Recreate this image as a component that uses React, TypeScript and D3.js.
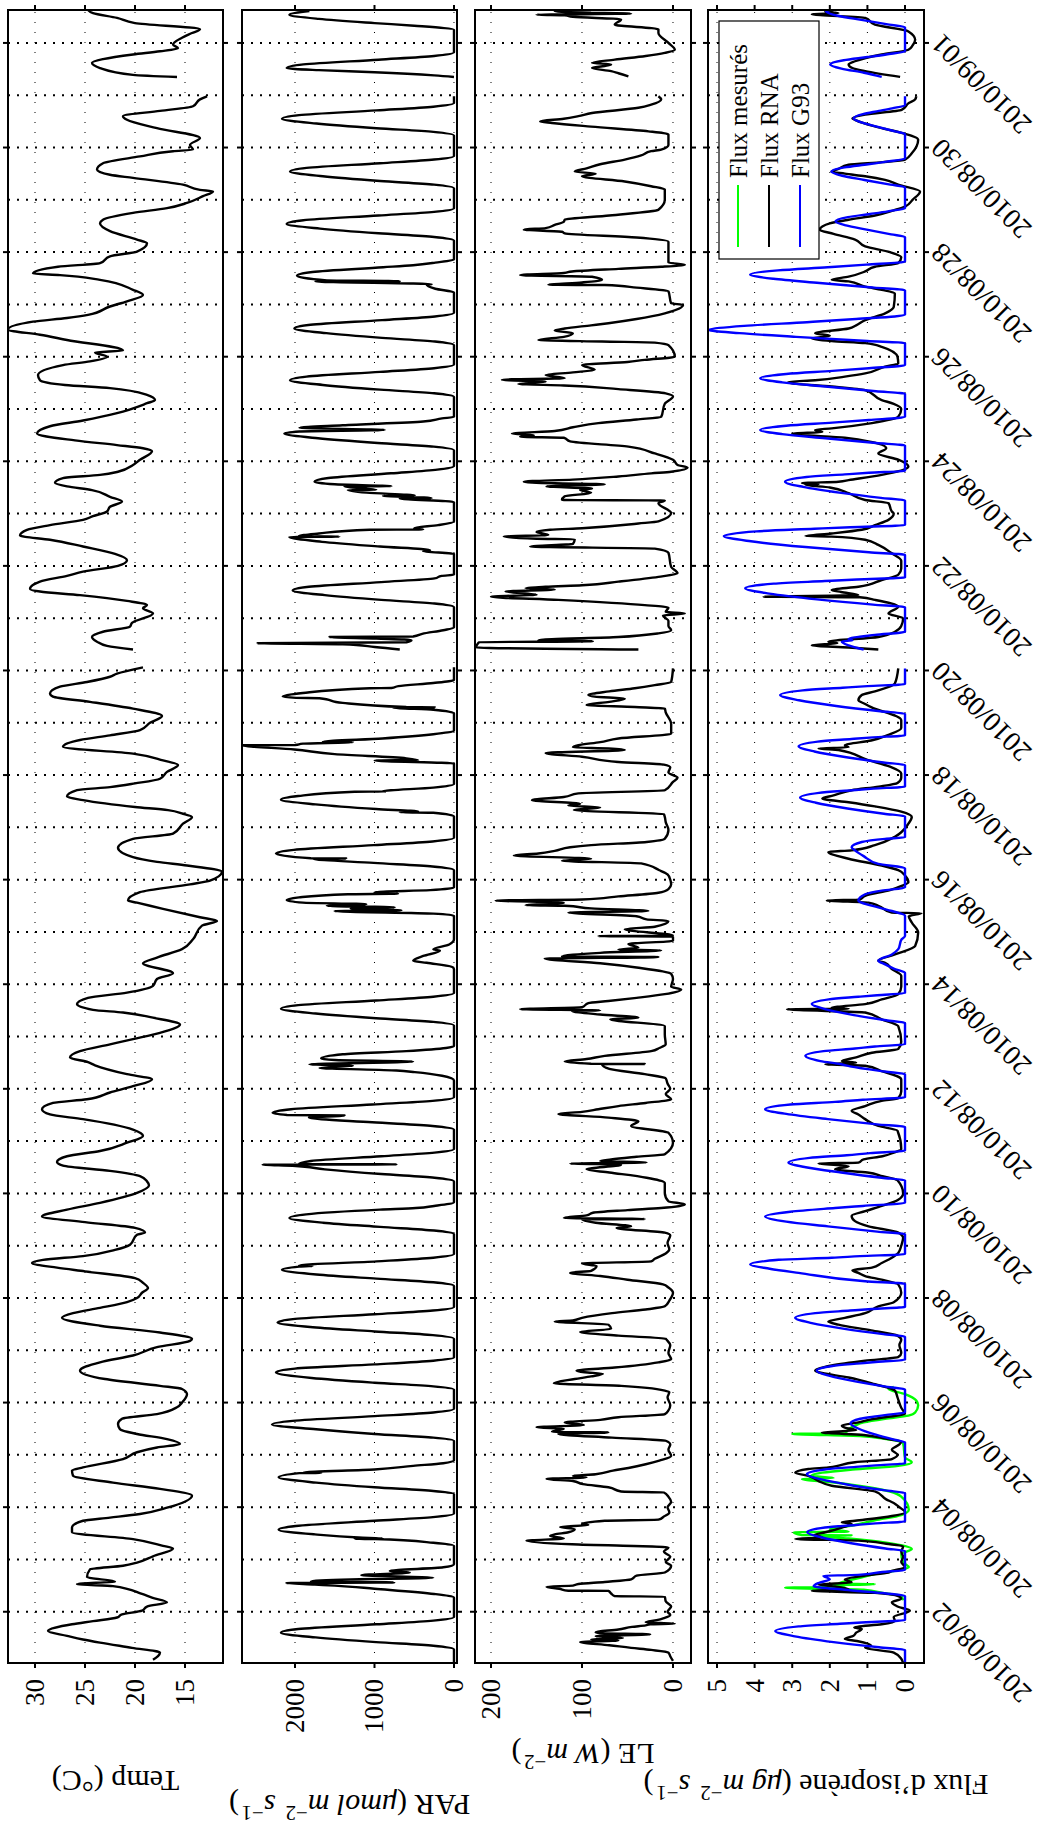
import React from "react";
import * as d3 from "d3";

// ---------- DATA (t = days since 2010-08-01 00:00 UTC) ----------
const tempData: number[][] = [
[0.08,18.2],[0.15,17.7],[0.22,17.5],[0.31,20.3],[0.41,23.5],[0.47,25.2],[0.54,26.8],[0.63,28.7],[0.76,26.3],[0.82,24.2],[0.89,21.8],[0.95,21.3],[1.02,19.3],[1.10,18.8],[1.18,16.8],[1.27,18.3],[1.34,19.3],[1.49,22.2],[1.53,25.8],[1.58,22.0],[1.66,24.8],[1.81,24.5],[1.88,21.2],[1.94,19.8],[2.06,18.2],[2.21,16.2],[2.26,17.2],[2.39,20.2],[2.52,26.3],[2.61,26.3],[2.74,25.2],[2.80,22.5],[2.87,19.5],[2.99,16.8],[3.22,14.3],[3.35,17.5],[3.47,22.2],[3.60,26.2],[3.70,26.3],[3.76,25.2],[3.92,21.2],[4.05,19.8],[4.14,17.8],[4.21,15.5],[4.30,16.8],[4.40,19.8],[4.49,21.5],[4.59,21.7],[4.69,21.3],[4.78,17.8],[4.91,15.8],[5.0,15.3],[5.16,14.8],[5.26,15.3],[5.32,17.5],[5.45,23],[5.61,25.5],[5.77,23.5],[5.90,20.2],[6.06,17.8],[6.18,14.5],[6.22,14.3],[6.34,17.5],[6.47,23.5],[6.62,27.3],[6.71,26.2],[6.81,23.5],[6.92,20.8],[7.0,19.8],[7.10,19.3],[7.19,18.7],[7.29,19.2],[7.38,20],[7.51,25],[7.58,27.8],[7.67,30.3],[7.73,29.2],[7.80,25.2],[7.92,22],[8.02,20.5],[8.21,19.8],[8.25,19.0],[8.34,20],[8.45,25],[8.56,29.3],[8.69,26.8],[8.82,23.5],[9.01,19.8],[9.15,18.6],[9.23,18.8],[9.33,19.5],[9.43,22.5],[9.53,27.2],[9.60,27.8],[9.71,26.8],[9.81,23.5],[9.97,20.8],[10.10,19.2],[10.22,20.2],[10.42,25.2],[10.51,28.5],[10.61,29.3],[10.73,28.2],[10.80,24.8],[10.93,22.5],[11.05,20.2],[11.18,18.3],[11.28,20.8],[11.45,24],[11.51,24.7],[11.60,26.5],[11.72,25.5],[11.85,22.5],[11.95,20.2],[12.07,17.5],[12.23,15.5],[12.36,18.2],[12.46,21.2],[12.51,24.2],[12.62,25.8],[12.74,24.7],[12.84,20.8],[12.97,18.2],[13.10,17.8],[13.21,16.2],[13.40,19.2],[13.51,17.8],[13.67,15.3],[13.86,14.2],[14.12,13.3],[14.21,11.8],[14.28,13.5],[14.44,17.2],[14.56,19.8],[14.60,20.7],[14.76,19.5],[14.91,14.5],[14.98,12.5],[15.15,11.3],[15.27,14.8],[15.34,17.8],[15.43,20.2],[15.61,21.7],[15.78,20.2],[15.88,16.2],[16.07,15.2],[16.20,14.3],[16.26,15.2],[16.33,16.7],[16.39,20],[16.52,25.2],[16.59,26.8],[16.71,25.8],[16.77,22.5],[16.84,20],[16.93,17.5],[17.06,16.8],[17.19,15.7],[17.28,17.2],[17.41,20.2],[17.54,27.2],[17.67,25.5],[17.76,22.5],[17.86,19.5],[18.0,18.5],[18.13,17.3],[18.27,20.2],[18.40,24.5],[18.50,28.2],[18.56,28.5],[18.69,27.5],[18.78,24.8],[18.88,22.5],[18.94,21.8],[19.06,19.2],[19.2,NaN],
[19.40,20.2],[19.47,22.8],[19.55,23.8],[19.64,24.3],[19.74,23.2],[19.84,20.5],[19.91,20.3],[20.09,18.2],[20.19,19.2],[20.25,18.8],[20.33,20.8],[20.44,25.5],[20.51,29.5],[20.56,30.5],[20.70,29.5],[20.81,26.8],[20.89,25.2],[21.0,21.7],[21.11,20.8],[21.23,22],[21.37,25.2],[21.50,28.5],[21.58,31.5],[21.69,30.8],[21.78,28.5],[21.88,25.2],[21.95,24.2],[22.04,22.8],[22.13,22.5],[22.23,21.3],[22.32,22.5],[22.45,24.3],[22.52,26.8],[22.59,28],[22.68,27.2],[22.74,23.5],[22.80,21.7],[22.93,20.2],[23.03,19.5],[23.19,18.3],[23.25,19.2],[23.31,21.8],[23.40,26],[23.53,29.8],[23.67,28.5],[23.78,25.2],[23.92,21.8],[24.11,18.8],[24.17,18],[24.27,18.8],[24.40,22.5],[24.46,27],[24.55,29.5],[24.65,29.7],[24.84,27.2],[24.91,24.5],[25.0,22.8],[25.08,24],[25.12,21.2],[25.32,26.8],[25.42,29.5],[25.52,32.7],[25.67,30.2],[25.74,26.8],[25.80,24.7],[25.96,22.5],[26.06,20.8],[26.18,19.2],[26.28,20.2],[26.47,23.5],[26.56,27.5],[26.59,30.2],[26.72,27.7],[26.79,23.5],[26.92,22.5],[27.01,19.8],[27.17,18.8],[27.24,19.8],[27.40,22.5],[27.55,23.5],[27.62,23.2],[27.75,20.2],[27.84,16.8],[27.94,14.8],[28.07,13.2],[28.16,12.2],[28.19,13.5],[28.29,15.2],[28.42,20.2],[28.48,22.5],[28.58,23.8],[28.70,23.2],[28.83,19.5],[28.93,16.2],[28.96,14.2],[29.05,14.5],[29.18,13.5],[29.37,17.8],[29.53,20.8],[29.60,21.2],[29.70,17.5],[29.79,14.2],[29.92,13.5],[29.98,12.8],[30.1,NaN],
[30.35,15.8],[30.39,20.2],[30.52,23.5],[30.62,24.3],[30.69,23.2],[30.78,20.2],[30.84,17.5],[30.90,15.7],[30.97,16.2],[31.10,15.3],[31.19,14.3],[31.26,13.5],[31.38,20],[31.48,21.8],[31.57,24.2],[31.63,24.7]
];

const parData: number[][] = [
[0.02,0],[0.28,0],[0.35,260],[0.42,980],[0.51,1740],[0.60,2177],[0.67,1960],[0.76,980],[0.83,260],[0.90,0],
[1.27,0],[1.34,250],[1.44,1000],[1.50,1500],[1.52,1750],[1.55,2110],[1.56,750],[1.58,1800],[1.62,1300],[1.65,260],[1.70,1166],[1.75,556],[1.78,808],[1.85,135],[1.91,0],
[2.26,0],[2.32,260],[2.39,1000],[2.395,1250],[2.40,890],[2.42,1200],[2.48,1750],[2.57,2206],[2.64,1990],[2.74,1000],[2.81,265],[2.88,0],
[3.25,0],[3.31,260],[3.38,1000],[3.47,1735],[3.57,2206],[3.65,1945],[3.655,1670],[3.66,1900],[3.72,1000],[3.79,514],[3.84,135],[3.89,0],
[4.27,0],[4.33,260],[4.40,1000],[4.49,1735],[4.58,2290],[4.65,2030],[4.74,1000],[4.81,260],[4.88,0],
[5.25,0],[5.31,260],[5.38,1000],[5.47,1790],[5.58,2240],[5.65,2000],[5.73,1000],[5.80,260],[5.86,0],
[6.22,0],[6.29,265],[6.36,1000],[6.44,1775],[6.53,2220],[6.60,2000],[6.69,1000],[6.76,265],[6.83,0],
[7.23,0],[7.30,260],[7.37,975],[7.45,1730],[7.54,2164],[7.60,1950],[7.61,1780],[7.62,1950],[7.70,975],[7.77,260],[7.84,0],
[8.22,0],[8.29,250],[8.36,930],[8.44,1650],[8.53,2071],[8.60,1860],[8.69,930],[8.72,480],[8.76,250],[8.83,0],
[9.23,0],[9.30,245],[9.37,915],[9.46,1625],[9.53,2030],[9.55,2408],[9.555,724],[9.56,1950],[9.62,1800],[9.71,915],[9.78,245],[9.85,0],
[10.22,0],[10.29,270],[10.36,1030],[10.45,1825],[10.49,1377],[10.50,2100],[10.54,2282],[10.61,2050],[10.70,1030],[10.77,270],[10.84,0],
[11.16,0],[11.25,150],[11.32,493],[11.35,724],[11.40,1692],[11.44,1271],[11.47,1819],[11.52,514],[11.55,1500],[11.58,1671],[11.66,1398],[11.72,600],[11.78,100],[11.82,0],
[12.21,0],[12.28,260],[12.35,980],[12.44,1740],[12.53,2177],[12.60,1960],[12.69,980],[12.76,260],[12.83,0],
[13.28,0],[13.32,10],[13.41,345],[13.45,513],[13.54,387],[13.64,177],[13.67,260],[13.76,60],[13.86,0],
[14.31,0],[14.35,260],[14.40,1503],[14.41,661],[14.45,1300],[14.47,745],[14.50,1600],[14.53,1103],[14.56,1900],[14.61,2105],[14.66,1950],[14.72,1335],[14.73,703],[14.76,1000],[14.80,300],[14.85,0],
[15.18,0],[15.25,270],[15.32,1010],[15.40,1777],[15.405,1356],[15.41,1800],[15.50,2240],[15.57,2015],[15.66,1010],[15.73,270],[15.80,0],
[16.21,0],[16.28,260],[16.29,682],[16.30,450],[16.35,980],[16.44,1740],[16.53,2177],[16.60,1960],[16.68,1250],[16.685,850],[16.69,900],[16.76,260],[16.83,0],
[17.22,0],[17.28,998],[17.285,450],[17.32,600],[17.40,1500],[17.49,2008],[17.57,2667],[17.575,2000],[17.60,1900],[17.63,1271],[17.635,1650],[17.70,900],[17.78,260],[17.85,0],
[18.18,0],[18.25,260],[18.29,766],[18.295,240],[18.30,600],[18.38,1400],[18.47,1692],[18.475,1987],[18.50,2155],[18.57,1900],[18.66,1061],[18.665,787],[18.70,700],[18.76,260],[18.82,0],[19.06,0],[19.2,NaN],
[19.40,682],[19.45,998],[19.50,1400],[19.52,2471],[19.54,598],[19.58,535],[19.61,977],[19.64,1566],[19.65,514],[19.70,400],[19.77,135],[19.82,0],
[20.21,0],[20.28,245],[20.35,915],[20.44,1625],[20.53,2029],[20.60,1825],[20.69,915],[20.76,245],[20.81,155],[20.83,0],
[21.23,0],[21.28,387],[21.30,300],[21.37,930],[21.46,1660],[21.55,2071],[21.56,1440],[21.57,1950],[21.62,1700],[21.69,1061],[21.695,387],[21.72,500],[21.78,200],[21.85,0],
[22.22,0],[22.29,682],[22.295,282],[22.34,893],[22.345,493],[22.40,1100],[22.45,1335],[22.455,977],[22.52,1377],[22.525,787],[22.56,1500],[22.61,1755],[22.68,1580],[22.77,790],[22.84,210],[22.91,0],
[23.21,0],[23.28,255],[23.35,960],[23.44,1710],[23.53,2134],[23.57,1945],[23.60,871],[23.64,1945],[23.69,1400],[23.76,387],[23.82,150],[23.85,0],
[24.23,0],[24.30,250],[24.37,930],[24.46,1650],[24.55,2063],[24.62,1855],[24.71,930],[24.78,250],[24.85,0],
[25.22,0],[25.29,240],[25.36,905],[25.45,1605],[25.54,2008],[25.61,1805],[25.70,905],[25.77,240],[25.84,0],
[26.23,0],[26.30,235],[26.38,345],[26.385,282],[26.44,1743],[26.445,682],[26.46,1600],[26.55,1975],[26.62,1780],[26.71,890],[26.75,514],[26.80,235],[26.86,0],
[27.22,0],[27.29,250],[27.36,950],[27.45,1685],[27.54,2105],[27.61,1895],[27.70,950],[27.77,250],[27.84,0],
[28.22,0],[28.29,250],[28.36,930],[28.45,1650],[28.54,2063],[28.61,1855],[28.70,930],[28.77,250],[28.84,0],
[29.23,0],[29.30,260],[29.37,975],[29.46,1730],[29.55,2164],[29.62,1950],[29.71,975],[29.78,260],[29.85,0],[29.98,0],[30.1,NaN],
[30.35,0],[30.38,250],[30.44,1000],[30.48,1700],[30.52,2105],[30.59,1895],[30.68,950],[30.75,250],[30.82,0],
[31.25,0],[31.33,500],[31.38,998],[31.46,1700],[31.54,2071],[31.61,1819]
];

const leData: number[][] = [
[0.06,0],[0.15,3],[0.22,5],[0.27,24],[0.31,46],[0.36,70],[0.42,102],[0.45,60],[0.47,90],[0.50,55],[0.53,85],[0.57,25],[0.59,80],[0.61,85],[0.66,60],[0.71,45],[0.74,30],[0.76,25],[0.77,-2],[0.80,30],[0.84,18],[0.88,10],[0.94,3],[1.0,6],[1.1,2],[1.2,8],
[1.29,9],[1.30,64],[1.35,68],[1.40,71],[1.401,115],[1.44,125],[1.48,139],[1.50,110],[1.53,104],[1.57,75],[1.62,46],[1.69,40],[1.75,9],[1.88,2],[1.95,8],[2.05,3],[2.15,10],
[2.23,5],[2.29,111],[2.36,161],[2.40,120],[2.45,135],[2.48,130],[2.52,115],[2.58,108],[2.62,124],[2.66,93],[2.68,100],[2.74,75],[2.76,16],[2.82,10],[2.90,4],[3.0,6],[3.10,2],[3.20,5],[3.28,10],
[3.30,57],[3.38,71],[3.44,99],[3.50,110],[3.54,139],[3.57,95],[3.60,110],[3.63,85],[3.70,66],[3.75,49],[3.82,30],[3.89,15],[3.98,2],[4.1,5],[4.2,3],
[4.27,8],[4.33,67],[4.40,126],[4.43,71],[4.44,133],[4.50,120],[4.53,150],[4.57,98],[4.62,119],[4.67,80],[4.72,60],[4.78,9],[4.85,5],[4.95,3],[5.1,6],[5.2,4],
[5.23,9],[5.32,57],[5.37,131],[5.45,108],[5.50,90],[5.55,77],[5.58,97],[5.61,106],[5.67,64],[5.77,16],[5.83,2],[5.95,5],[6.1,3],[6.2,7],
[6.22,8],[6.28,60],[6.35,102],[6.41,68],[6.49,71],[6.55,130],[6.57,110],[6.62,100],[6.71,67],[6.78,30],[6.84,9],[6.95,4],[7.10,0],[7.2,5],
[7.26,11],[7.35,50],[7.42,80],[7.48,113],[7.52,90],[7.61,84],[7.66,100],[7.70,24],[7.75,20],[7.85,8],[7.93,4],[8.05,6],[8.2,3],
[8.25,9],[8.34,62],[8.37,46],[8.44,85],[8.50,100],[8.51,31],[8.53,120],[8.58,95],[8.63,88],[8.68,50],[8.72,13],[8.79,-13],[8.85,5],[9.01,9],
[9.20,9],[9.30,29],[9.40,70],[9.46,95],[9.55,57],[9.57,113],[9.59,29],[9.62,80],[9.65,68],[9.70,40],[9.75,9],[9.97,0],
[10.16,5],[10.29,46],[10.38,38],[10.45,71],[10.52,126],[10.56,100],[10.61,82],[10.67,60],[10.73,30],[10.80,2],[10.9,8],[11.0,3],[11.1,6],
[11.20,8],[11.28,31],[11.38,70],[11.47,78],[11.475,31],[11.48,90],[11.52,119],[11.57,95],[11.63,75],[11.72,24],[11.78,15],[11.85,8],[12.04,9],
[12.20,9],[12.33,69],[12.36,38],[12.42,80],[12.49,111],[12.50,80],[12.52,168],[12.56,100],[12.64,93],[12.68,71],[12.74,40],[12.81,9],[12.90,-9],[12.95,2],[13.1,0],[13.2,2],
[13.32,40],[13.40,80],[13.49,141],[13.52,16],[13.53,122],[13.60,80],[13.65,13],[13.66,60],[13.70,38],[13.77,49],[13.83,0],[13.91,0],
[13.92,82],[13.93,0],[14.05,53],[14.10,20],[14.21,5],[14.24,29],[14.30,40],[14.37,115],[14.40,27],[14.45,90],[14.50,119],[14.51,162],[14.56,120],[14.60,195],[14.62,100],[14.68,60],[14.75,16],[14.82,5],[14.91,2],[15.0,3],[15.1,6],
[15.18,15],[15.31,35],[15.36,122],[15.40,90],[15.46,175],[15.50,148],[15.55,130],[15.62,113],[15.66,90],[15.72,29],[15.78,9],[15.95,5],[16.10,8],[16.2,9],
[16.25,10],[16.33,109],[16.38,80],[16.42,115],[16.45,102],[16.52,155],[16.58,120],[16.65,104],[16.71,9],[16.87,0],[16.95,-5],[17.05,5],[17.15,3],
[17.20,10],[17.25,60],[17.35,100],[17.42,140],[17.48,53],[17.51,71],[17.53,110],[17.57,104],[17.63,80],[17.70,60],[17.79,2],[17.98,2],
[18.20,8],[18.27,9],[18.30,42],[18.34,95],[18.40,70],[18.46,53],[18.50,86],[18.53,93],[18.60,70],[18.66,42],[18.72,20],[18.78,2],[19.04,0],[19.2,NaN],
[19.40,38],[19.44,217],[19.50,215],[19.54,213],[19.56,88],[19.58,148],[19.64,60],[19.71,16],[19.77,2],[19.85,5],[19.95,5],[20.05,11],[20.09,-13],[20.12,8],[20.20,5],
[20.25,31],[20.35,126],[20.41,200],[20.45,150],[20.51,184],[20.55,130],[20.57,162],[20.60,140],[20.63,100],[20.70,60],[20.79,16],[20.86,-5],[20.98,2],
[21.25,5],[21.33,20],[21.37,157],[21.42,110],[21.51,108],[21.52,150],[21.56,186],[21.59,137],[21.65,150],[21.69,135],[21.72,100],[21.81,38],[21.85,16],[22.01,2],
[22.20,16],[22.25,9],[22.26,122],[22.33,119],[22.40,90],[22.45,102],[22.48,89],[22.52,139],[22.56,75],[22.58,130],[22.61,164],[22.65,110],[22.71,60],[22.77,24],[22.80,2],
[22.88,-16],[22.93,-5],[23.03,0],[23.15,20],[23.28,49],[23.38,113],
[23.45,120],[23.47,168],[23.50,153],[23.53,177],[23.58,130],[23.65,110],[23.73,82],[23.80,40],[23.85,13],[24.10,9],[24.24,0],
[24.30,8],[24.38,60],[24.45,120],[24.48,170],[24.52,140],[24.56,188],[24.59,119],[24.65,140],[24.70,110],[24.75,86],[24.84,100],[24.90,50],[24.94,31],[25.0,-2],
[25.22,5],[25.27,20],[25.29,78],[25.32,148],[25.38,120],[25.45,110],[25.50,130],[25.54,119],[25.60,90],[25.64,71],[25.72,40],[25.83,9],[25.99,-11],[26.02,2],
[26.25,5],[26.32,40],[26.37,75],[26.375,137],[26.42,100],[26.47,78],[26.53,89],[26.56,168],[26.60,120],[26.63,111],[26.68,60],[26.72,13],[26.76,-13],[26.80,5],[26.92,5],
[27.20,5],[27.28,40],[27.36,119],[27.39,122],[27.43,164],[27.46,140],[27.52,130],[27.58,120],[27.62,119],[27.70,70],[27.81,16],[28.00,9],
[28.20,9],[28.26,24],[28.35,53],[28.45,100],[28.50,85],[28.54,108],[28.60,95],[28.68,80],[28.77,53],[28.85,35],[28.93,24],[28.96,13],[29.05,5],
[29.25,5],[29.31,27],[29.40,90],[29.47,133],[29.50,146],[29.55,120],[29.60,104],[29.66,89],[29.76,38],[29.82,24],[29.92,13],[29.98,16],[30.1,NaN],
[30.36,49],[30.42,60],[30.46,68],[30.52,89],[30.56,75],[30.59,68],[30.62,89],[30.68,64],[30.75,30],[30.81,9],[30.87,-2],[31.0,5],[31.19,16],
[31.26,16],[31.35,64],[31.45,57],[31.50,110],[31.53,119],[31.54,150],[31.56,46],[31.58,100],[31.61,130],[31.63,90]
];

const fluxMeasured: number[][] = [
[1.22,0.05],[1.30,0.1],[1.36,0.6],[1.42,1.1],[1.46,3.19],[1.47,1.6],[1.50,2.2],[1.53,0.8],[1.535,1.77],[1.58,1.6],[1.65,1.2],[1.72,0.8],[1.78,0.3],[1.85,-0.1],[1.95,0.05],[2.1,0.1],
[2.2,-0.18],[2.32,0.5],[2.40,1.5],[2.45,2.4],[2.46,1.42],[2.465,2.74],[2.52,2.96],[2.53,1.5],[2.58,2.0],[2.65,1.4],[2.75,0.8],[2.85,0.1],[2.95,-0.1],
[3.2,0.1],[3.3,0.4],[3.41,1.24],[3.48,2.0],[3.54,2.74],[3.56,1.9],[3.60,2.5],[3.66,2.2],[3.72,1.4],[3.79,0.18],[3.86,-0.18],[3.95,0],
[4.22,0.05],[4.30,0.5],[4.36,1.2],[4.40,3.0],[4.41,1.6],[4.49,1.5],[4.56,1.33],[4.62,1.1],[4.69,0.53],[4.75,-0.09],[4.81,-0.27],[4.95,-0.35],[5.04,-0.3],[5.16,0],[5.26,0.44],[5.30,0.3]
];

const fluxRNA: number[][] = [
[0.02,0.05],[0.10,0.1],[0.22,0.3],[0.31,1.06],[0.35,0.9],[0.44,1.28],[0.48,1.6],[0.54,1.37],[0.60,1.3],[0.67,1.15],[0.70,1.35],[0.76,0.62],[0.82,0.27],[0.90,0.3],[1.02,-0.13],[1.10,0.2],[1.18,0.35],[1.25,0.1],
[1.30,0.18],[1.36,0.8],[1.40,2.48],[1.43,1.5],[1.49,1.95],[1.52,2.3],[1.56,1.42],[1.62,1.6],[1.69,1.06],[1.75,0.44],[1.78,0.35],[1.85,0],[1.95,0.1],[2.05,0.05],[2.15,0.1],
[2.25,0.05],[2.30,0.5],[2.36,1.24],[2.39,2.92],[2.42,2.2],[2.47,2.4],[2.52,2.12],[2.61,1.68],[2.68,1.42],[2.71,1.68],[2.74,1.33],[2.83,0.35],[2.90,0],[3.0,0.15],[3.08,0.3],
[3.15,0.5],[3.30,0.8],[3.41,1.95],[3.50,2.3],[3.60,2.57],[3.66,2.92],[3.73,2.57],[3.76,2.04],[3.86,1.33],[3.92,0.35],[4.0,0.2],[4.1,0.35],[4.2,0.15],
[4.25,0.1],[4.32,0.6],[4.38,1.1],[4.43,2.21],[4.47,1.3],[4.52,1.6],[4.56,1.68],[4.62,1.24],[4.68,0.9],[4.72,0.53],[4.78,0],[4.9,0.1],[5.1,0.2],
[5.23,0.27],[5.35,0.8],[5.48,1.5],[5.58,2.3],[5.61,2.39],[5.71,1.95],[5.80,1.06],[5.87,0.18],[5.95,0.1],[6.1,0.15],[6.2,0.1],
[6.28,0.2],[6.38,0.9],[6.49,1.77],[6.55,2.04],[6.62,1.6],[6.71,1.06],[6.84,0.71],[6.92,0.3],[7.1,0.1],
[7.26,0.18],[7.35,0.62],[7.42,1.06],[7.48,1.24],[7.53,1.4],[7.58,0.88],[7.67,0.62],[7.77,0.35],[7.86,0.18],[8.0,0.1],[8.15,0.05],
[8.25,0.18],[8.37,0.97],[8.47,1.33],[8.57,1.42],[8.66,1.06],[8.76,0.62],[8.88,0.18],[9.0,0.05],
[9.25,0.2],[9.33,0.6],[9.40,1.0],[9.46,1.86],[9.52,1.5],[9.57,2.3],[9.59,1.24],[9.65,1.1],[9.71,0.6],[9.78,0.3],[9.85,0.1],
[10.20,0.2],[10.29,0.71],[10.42,1.06],[10.51,1.24],[10.58,1.42],[10.67,1.06],[10.77,0.62],[10.82,0.18],[10.95,0.1],
[11.18,0.1],[11.34,0.62],[11.44,1.06],[11.47,2.12],[11.50,1.3],[11.53,1.68],[11.60,1.3],[11.69,0.88],[11.76,0.18],[11.9,0.1],
[12.20,0.18],[12.33,0.62],[12.46,1.06],[12.52,3.14],[12.53,1.5],[12.55,1.95],[12.62,1.06],[12.71,0.62],[12.81,0.18],[12.95,0.1],
[13.16,0.1],[13.29,0.35],[13.41,0.53],[13.45,0.71],[13.57,0.27],[13.73,-0.27],[13.99,-0.35],[14.18,-0.18],
[14.30,-0.1],[14.36,-0.44],[14.37,0.35],[14.50,0.71],[14.56,0.97],[14.60,2.08],[14.62,1.2],[14.69,1.06],[14.80,0.4],[14.88,0.09],
[14.95,-0.09],[15.08,0],[15.18,0.18],[15.27,0.62],[15.40,1.5],[15.53,2.04],[15.56,1.42],[15.66,0.8],[15.82,0.27],[16.07,-0.09],[16.2,-0.18],
[16.30,0.1],[16.40,0.8],[16.48,1.5],[16.55,2.2],[16.61,1.9],[16.71,1.42],[16.78,0.7],[16.85,0.2],[16.95,0.1],
[17.03,0.1],[17.16,0.4],[17.29,1.0],[17.48,1.77],[17.51,2.3],[17.53,1.5],[17.57,1.6],[17.66,0.9],[17.77,0.44],[17.9,0.1],
[18.05,0.1],[18.30,0.9],[18.36,1.06],[18.43,1.24],[18.53,1.15],[18.60,0.8],[18.75,0.27],[19.04,0.18],[19.2,NaN],
[19.40,0.71],[19.44,1.5],[19.48,2.48],[19.52,1.8],[19.55,2.04],[19.64,0.71],[19.74,0.27],[19.85,0.1],[20.0,0.05],
[20.09,0.44],[20.22,0.18],[20.35,0.8],[20.40,1.2],[20.41,3.76],[20.44,1.24],[20.50,1.7],[20.54,1.95],[20.60,1.24],[20.73,0.62],[20.83,0.18],[20.95,0.1],
[21.10,0.1],[21.24,0.35],[21.40,0.71],[21.50,1.06],[21.56,1.95],[21.57,2.65],[21.62,1.95],[21.69,1.15],[21.78,0.8],[21.88,0.44],[22.0,0.3],
[22.04,0.35],[22.20,0.44],[22.26,1.06],[22.39,1.5],[22.50,2.0],[22.55,2.65],[22.56,2.3],[22.58,2.74],[22.61,1.77],[22.64,1.5],[22.74,0.62],[22.90,-0.09],
[23.03,0.18],[23.15,0.71],[23.25,0.5],[23.37,0.9],[23.45,1.6],[23.53,3.0],[23.56,2.2],[23.60,2.39],[23.63,1.95],[23.73,0.88],[23.85,0.18],[24.0,0.1],
[24.10,0.3],[24.17,0.62],[24.36,1.06],[24.43,1.95],[24.49,3.0],[24.52,3.1],[24.55,2.39],[24.62,1.6],[24.68,1.06],[24.81,0.53],[24.87,0.18],[25.0,0.2],
[25.19,0.62],[25.26,1.06],[25.30,1.95],[25.35,2.48],[25.40,2.0],[25.45,2.39],[25.54,1.5],[25.60,1.3],[25.70,1.06],[25.83,0.53],[25.95,0.3],
[26.21,0.27],[26.28,0.62],[26.34,1.06],[26.44,1.5],[26.47,1.95],[26.53,1.5],[26.63,1.06],[26.72,0.8],[26.79,0.18],[26.90,0.1],
[27.0,0.4],[27.11,1.06],[27.24,1.33],[27.35,1.9],[27.43,2.27],[27.49,2.2],[27.55,2.0],[27.62,1.5],[27.70,0.8],[27.80,0.3],
[27.87,0],[28.0,-0.2],[28.16,-0.4],[28.29,0.18],[28.38,0.53],[28.45,1.06],[28.50,1.6],[28.54,1.95],[28.58,1.8],[28.67,1.5],[28.72,0.6],[28.77,0],
[28.89,-0.18],[29.15,-0.35],[29.28,0.09],[29.37,0.62],[29.53,1.33],[29.56,1.4],[29.63,1.06],[29.72,0.09],[29.85,-0.1],[29.92,-0.27],[29.98,-0.3],[30.1,NaN],
[30.35,0.13],[30.46,1.06],[30.52,1.4],[30.59,1.5],[30.65,1.33],[30.78,0.62],[30.87,-0.09],[30.95,-0.2],
[31.06,-0.27],[31.22,-0.09],[31.35,0.8],[31.48,1.06],[31.55,2.48],[31.57,1.77],[31.60,2.12],[31.63,1.9]
];

const fluxG93: number[][] = [
[0.02,0],[0.27,0],[0.32,0.69],[0.42,1.9],[0.53,2.93],[0.63,3.45],[0.72,2.83],[0.77,1.73],[0.80,1.04],[0.84,0],
[1.30,0],[1.35,0.5],[1.42,1.6],[1.49,2.43],[1.55,2.3],[1.62,2.0],[1.69,2.17],[1.70,1.42],[1.76,0.6],[1.80,0],
[2.16,0],[2.21,0.52],[2.31,1.43],[2.42,2.21],[2.52,2.6],[2.61,2.13],[2.66,1.3],[2.69,0.78],[2.73,0],
[3.27,0],[3.32,0.52],[3.42,1.44],[3.53,2.22],[3.63,2.61],[3.72,2.14],[3.77,1.31],[3.80,0.78],[3.84,0],
[4.24,0],[4.29,0.29],[4.39,0.8],[4.50,1.23],[4.60,1.45],[4.69,1.19],[4.74,0.73],[4.77,0.44],[4.81,0],
[5.25,0],[5.30,0.47],[5.40,1.29],[5.51,2.0],[5.61,2.35],[5.70,1.93],[5.75,1.18],[5.78,0.71],[5.82,0],
[6.26,0],[6.31,0.58],[6.41,1.61],[6.52,2.48],[6.62,2.92],[6.71,2.39],[6.76,1.46],[6.79,0.88],[6.83,0],
[7.27,0],[7.32,1.06],[7.48,2.83],[7.56,3.6],[7.64,4.12],[7.73,3.36],[7.77,1.95],[7.80,1.2],[7.84,0],
[8.22,0],[8.27,0.74],[8.37,2.05],[8.46,3.16],[8.56,3.72],[8.65,3.05],[8.72,1.86],[8.76,1.12],[8.82,0],
[9.25,0],[9.30,0.62],[9.40,1.7],[9.50,2.64],[9.59,3.1],[9.68,2.54],[9.73,1.55],[9.77,0.93],[9.82,0],
[10.27,0],[10.32,0.74],[10.42,2.05],[10.52,3.16],[10.61,3.72],[10.70,3.05],[10.75,1.86],[10.79,1.12],[10.84,0],
[11.28,0],[11.33,0.53],[11.43,1.46],[11.47,1.7],[11.53,2.25],[11.63,2.65],[11.72,2.17],[11.77,1.33],[11.81,0.8],[11.85,0],
[12.26,0],[12.31,0.5],[12.41,1.36],[12.52,2.1],[12.62,2.48],[12.71,2.03],[12.76,1.24],[12.79,0.74],[12.83,0],
[13.22,0],[13.29,0.27],[13.38,0.53],[13.45,0.71],[13.57,0.35],[13.67,0.18],[13.86,0.09],[13.92,0],
[14.31,0],[14.40,0.35],[14.47,0.71],[14.60,1.24],[14.72,1.06],[14.79,0.62],[14.85,0],
[15.22,0],[15.30,0.71],[15.45,1.1],[15.56,1.33],[15.62,1.42],[15.72,1.15],[15.78,0.53],[15.81,0],
[16.21,0],[16.26,0.56],[16.36,1.53],[16.47,2.37],[16.57,2.79],[16.66,2.29],[16.71,1.4],[16.74,0.84],[16.78,0],
[17.19,0],[17.24,0.57],[17.34,1.56],[17.45,2.41],[17.55,2.83],[17.64,2.32],[17.69,1.42],[17.72,0.85],[17.76,0],
[18.17,0],[18.22,0.66],[18.32,1.83],[18.43,2.82],[18.53,3.32],[18.62,2.72],[18.67,1.66],[18.70,1.0],[18.74,0],[19.04,0],[19.2,NaN],
[19.40,1.1],[19.48,1.5],[19.55,1.68],[19.58,1.4],[19.60,1.5],[19.68,0.8],[19.74,0],
[20.21,0],[20.26,0.85],[20.36,2.34],[20.47,3.61],[20.57,4.25],[20.66,3.49],[20.71,2.13],[20.74,1.28],[20.78,0],
[21.21,0],[21.26,0.96],[21.36,2.65],[21.47,4.1],[21.57,4.82],[21.66,3.95],[21.71,2.41],[21.74,1.45],[21.78,0],
[22.25,0],[22.30,0.64],[22.40,1.75],[22.51,2.71],[22.61,3.19],[22.70,2.62],[22.75,1.6],[22.78,0.96],[22.82,0],
[23.30,0],[23.35,0.77],[23.44,2.12],[23.52,3.27],[23.60,3.85],[23.68,3.16],[23.74,1.93],[23.79,0.96],[23.85,0],
[24.29,0],[24.34,0.77],[24.43,2.12],[24.51,3.27],[24.59,3.85],[24.67,3.16],[24.73,1.93],[24.78,0.96],[24.84,0],
[25.26,0],[25.30,1.0],[25.38,2.9],[25.45,4.4],[25.51,5.22],[25.59,4.28],[25.66,2.61],[25.72,1.3],[25.80,0],
[26.27,0],[26.32,0.82],[26.41,2.27],[26.49,3.5],[26.57,4.12],[26.65,3.38],[26.71,2.06],[26.76,1.03],[26.82,0],
[27.29,0],[27.34,0.37],[27.43,1.02],[27.51,1.57],[27.59,1.85],[27.67,1.52],[27.73,0.93],[27.78,0.46],[27.84,0],
[28.24,0],[28.29,0.39],[28.38,1.08],[28.46,1.67],[28.54,1.96],[28.62,1.61],[28.68,0.98],[28.73,0.49],[28.79,0],
[29.26,0],[29.31,0.27],[29.40,0.75],[29.48,1.16],[29.56,1.37],[29.64,1.12],[29.70,0.69],[29.75,0.34],[29.81,0],[29.98,0],[30.1,NaN],
[30.35,0.62],[30.43,1.09],[30.51,1.69],[30.59,1.99],[30.67,1.63],[30.73,1.0],[30.78,0.5],[30.84,0],
[31.30,0],[31.35,0.42],[31.44,1.16],[31.52,1.79],[31.60,2.1],[31.63,2.0]
];

const tempTicks = [15, 20, 25, 30];
const parTicks = [0, 1000, 2000];
const leTicks = [0, 100, 200];
const fluxTicks = [0, 1, 2, 3, 4, 5];
const legendLabels = ["Flux mesurés", "Flux RNA", "Flux G93"];
const legendColors = ["#00ff00", "#000000", "#0000ff"];

// ---------- LAYOUT (drawn in landscape, then rotated -90°) ----------
const SW = 1038, SH = 1825;
const X0 = 162, X1 = 1815;
const FONT = "'Liberation Serif', 'Times New Roman', serif";
const T0 = Date.UTC(2010, 7, 1);
const toDate = (t: number) => new Date(T0 + t * 86400000);

const x = d3.scaleUtc().domain([toDate(0.02), toDate(31.63)]).range([X0, X1]);

type Panel = { key: string; y0: number; y1: number; domain: [number, number]; ticks: number[] };
const panels: Panel[] = [
  { key: "temp", y0: 8, y1: 223, domain: [11.2, 32.7], ticks: tempTicks },
  { key: "par", y0: 242, y1: 457, domain: [-38, 2667], ticks: parTicks },
  { key: "le", y0: 475, y1: 691, domain: [-19.8, 217.6], ticks: leTicks },
  { key: "flux", y0: 708, y1: 924, domain: [-0.505, 5.24], ticks: fluxTicks },
];

const days = d3.utcDay.range(toDate(1), toDate(31.5));
const fmt = d3.utcFormat("%Y/%m/%d");

function mkLine(ys: d3.ScaleLinear<number, number>) {
  return d3
    .line<number[]>()
    .defined((d) => !isNaN(d[1]))
    .curve(d3.curveMonotoneX)
    .x((d) => x(toDate(d[0])))
    .y((d) => ys(d[1]));
}

function Sup({ children }: { children: string }) {
  return (
    <>
      <tspan dy={-11} fontSize={21}>{children}</tspan>
      <tspan dy={11}>{"\u200A"}</tspan>
    </>
  );
}

export default function App() {
  const scales = panels.map((p) => d3.scaleLinear().domain(p.domain).range([p.y1, p.y0]));
  const seriesByPanel: { data: number[][]; color: string }[][] = [
    [{ data: tempData, color: "#000" }],
    [{ data: parData, color: "#000" }],
    [{ data: leData, color: "#000" }],
    [
      { data: fluxMeasured, color: "#00ff00" },
      { data: fluxRNA, color: "#000" },
      { data: fluxG93, color: "#0000ff" },
    ],
  ];

  const labelFs = 30;
  const yLabels = [
    { ox: 54, node: <>Temp (°C)</> },
    {
      ox: 30,
      node: (
        <>
          PAR (<tspan fontStyle="italic">μmol m</tspan>
          <Sup>−2</Sup>
          <tspan fontStyle="italic"> s</tspan>
          <Sup>−1</Sup>)
        </>
      ),
    },
    {
      ox: 81,
      node: (
        <>
          LE (<tspan fontStyle="italic">W m</tspan>
          <Sup>−2</Sup>)
        </>
      ),
    },
    {
      ox: 50,
      node: (
        <>
          Flux d’isoprène (<tspan fontStyle="italic">μg m</tspan>
          <Sup>−2</Sup>
          <tspan fontStyle="italic"> s</tspan>
          <Sup>−1</Sup>)
        </>
      ),
    },
  ];

  return (
    <svg
      width={SW}
      height={SH}
      style={{ position: "absolute", left: 0, top: 0, background: "#fff" }}
      fontFamily={FONT}
    >
      <rect width={SW} height={SH} fill="#fff" />
      <defs>
        {panels.map((p) => (
          <clipPath id={`clip-${p.key}`} key={p.key}>
            <rect x={X0} y={p.y0} width={X1 - X0} height={p.y1 - p.y0} />
          </clipPath>
        ))}
      </defs>
      <g transform={`translate(0,${SH}) rotate(-90)`}>
        {panels.map((p, i) => {
          const ys = scales[i];
          const line = mkLine(ys);
          return (
            <g key={p.key}>
              {p.ticks.map((v) => (
                <line
                  key={"vg" + v}
                  x1={X0}
                  x2={X1}
                  y1={ys(v)}
                  y2={ys(v)}
                  stroke="#000"
                  strokeWidth={1}
                  strokeDasharray="1 9"
                />
              ))}
              {days.map((d, k) => (
                <line
                  key={"dg" + k}
                  x1={x(d)}
                  x2={x(d)}
                  y1={p.y0}
                  y2={p.y1}
                  stroke="#000"
                  strokeWidth={2}
                  strokeDasharray="2 7"
                />
              ))}
              <g clipPath={`url(#clip-${p.key})`}>
                {seriesByPanel[i].map((s, k) => (
                  <path
                    key={k}
                    d={line(s.data) || ""}
                    fill="none"
                    stroke={s.color}
                    strokeWidth={2.4}
                    strokeLinejoin="round"
                  />
                ))}
              </g>
              <rect
                x={X0}
                y={p.y0}
                width={X1 - X0}
                height={p.y1 - p.y0}
                fill="none"
                stroke="#000"
                strokeWidth={2}
              />
              {days.map((d, k) =>
                k % 2 === 0 ? (
                  <g key={"dt" + k}>
                    <line x1={x(d)} x2={x(d)} y1={p.y0} y2={p.y0 - 5} stroke="#000" strokeWidth={2} />
                    <line x1={x(d)} x2={x(d)} y1={p.y1} y2={p.y1 + 5} stroke="#000" strokeWidth={2} />
                  </g>
                ) : null
              )}
              {p.ticks.map((v) => (
                <g key={"vt" + v}>
                  <line x1={X0} x2={X0 - 5} y1={ys(v)} y2={ys(v)} stroke="#000" strokeWidth={2} />
                  <line x1={X1} x2={X1 + 5} y1={ys(v)} y2={ys(v)} stroke="#000" strokeWidth={2} />
                  <text x={146} y={ys(v)} textAnchor="end" dominantBaseline="central" fontSize={27}>
                    {v}
                  </text>
                </g>
              ))}
              <text
                transform={`translate(${yLabels[i].ox},${(p.y0 + p.y1) / 2}) rotate(-90)`}
                textAnchor="middle"
                fontSize={labelFs}
              >
                {yLabels[i].node}
              </text>
            </g>
          );
        })}

        {days.map((d, k) =>
          k % 2 === 0 ? (
            <text
              key={"dl" + k}
              transform={`translate(${x(d) + 4},${936}) rotate(-45)`}
              textAnchor="end"
              dominantBaseline="central"
              fontSize={28}
            >
              {fmt(d)}
            </text>
          ) : null
        )}

        <g>
          <rect x={1566} y={719} width={238} height={100} fill="#fff" stroke="#000" strokeWidth={1.2} />
          {legendLabels.map((lab, k) => (
            <g key={lab}>
              <line
                x1={1578}
                x2={1640}
                y1={738 + k * 31}
                y2={738 + k * 31}
                stroke={legendColors[k]}
                strokeWidth={2}
              />
              <text x={1647} y={738 + k * 31} dominantBaseline="central" fontSize={25}>
                {lab}
              </text>
            </g>
          ))}
        </g>
      </g>
    </svg>
  );
}
